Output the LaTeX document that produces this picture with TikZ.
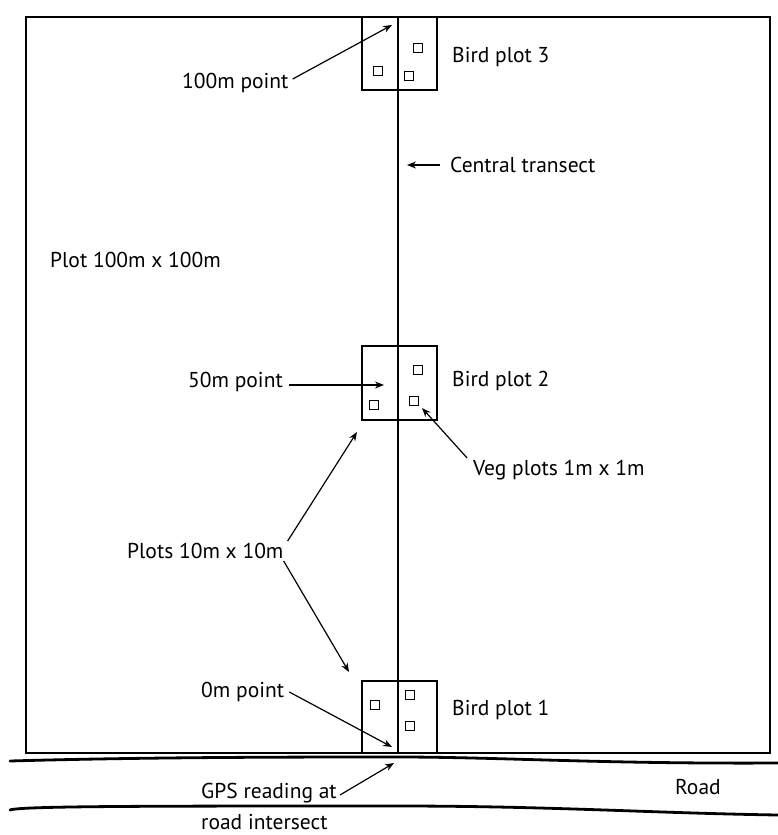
\documentclass[tikz,border=0pt]{standalone}
\usepackage{fontspec}
\setmainfont{PT Sans}
\usetikzlibrary{arrows.meta}
\begin{document}
\begin{tikzpicture}[x=1pt,y=-1pt,
  thick line/.style={line width=2.8pt},
  plotbox/.style={line width=2.8pt},
  vegsq/.style={line width=1.2pt},
  lbl/.style={inner sep=0pt,anchor=west,font=\fontsize{21.5}{25}\selectfont},
  pointer/.style={line width=1.2pt,-{Stealth[length=9pt,width=7pt]}},
  roadline/.style={line width=2.8pt,line cap=round}]
\useasboundingbox (0,0) rectangle (778,835);
% outer plot
\draw[thick line] (26,17) rectangle (770,753);
% central transect
\draw[line width=2.4pt] (398,17) -- (398,753);
% bird plots
\draw[plotbox] (362,17) rectangle (437,90);
\draw[plotbox] (362,346) rectangle (437,420);
\draw[plotbox] (362,681) rectangle (437,753);
% veg plots
\foreach \cx/\cy in {418/48, 378/71, 409/76, 418/370, 374/405, 414/401, 375/705, 410/695, 410/726}
  \draw[vegsq] (\cx-4.5,\cy-4.5) rectangle (\cx+4.5,\cy+4.5);
% road
\draw[roadline] (10,761) .. controls (150,757) and (300,757) .. (398,757)
  .. controls (500,757) and (600,764) .. (778,763);
\draw[roadline] (10,810) .. controls (20,806) and (150,806) .. (398,806)
  .. controls (550,806) and (650,813) .. (778,815);
% labels
\node[lbl] (t100) at (182,83) {100m point};
\node[lbl] (b3) at (452,57) {Bird plot 3};
\node[lbl] (ct) at (450,165) {Central transect};
\node[lbl] (pl) at (50,260) {Plot 100m x 100m};
\node[lbl] (t50) at (188,382) {50m point};
\node[lbl] (b2) at (452,381) {Bird plot 2};
\node[lbl] (veg) at (473,470) {Veg plots 1m x 1m};
\node[lbl] (p10) at (127,551) {Plots 10m x 10m};
\node[lbl] (t0) at (201,692) {0m point};
\node[lbl] (b1) at (452,710) {Bird plot 1};
\node[lbl] (gps) at (201,793) {GPS reading at};
\node[lbl] (gps2) at (201,822) {road intersect};
\node[lbl] (road) at (675,787) {Road};
% arrow targets
\coordinate (a100) at (392,25);
\coordinate (act) at (407,165);
\coordinate (a50) at (384,385);
\coordinate (aveg) at (422,408);
\coordinate (ap2) at (357,432);
\coordinate (ap1) at (349,672);
\coordinate (a0) at (392,747);
\coordinate (agps) at (394,763);
% arrows
\draw[pointer] (t100.east) ++(4,-4) -- (a100);
\draw[pointer] (ct.west) ++(-10,0) -- (act);
\draw[pointer] (t50.east) ++(6,3) -- (a50);
\draw[pointer] (veg.north west) ++(-6,-2) -- (aveg);
\draw[pointer] (p10.north east) ++(4,-2) -- (ap2);
\draw[pointer] (p10.south east) ++(0,2) -- (ap1);
\draw[pointer] (t0.east) ++(5,0) -- (a0);
\draw[pointer] (gps.east) ++(3,2) -- (agps);
\end{tikzpicture}
\end{document}
